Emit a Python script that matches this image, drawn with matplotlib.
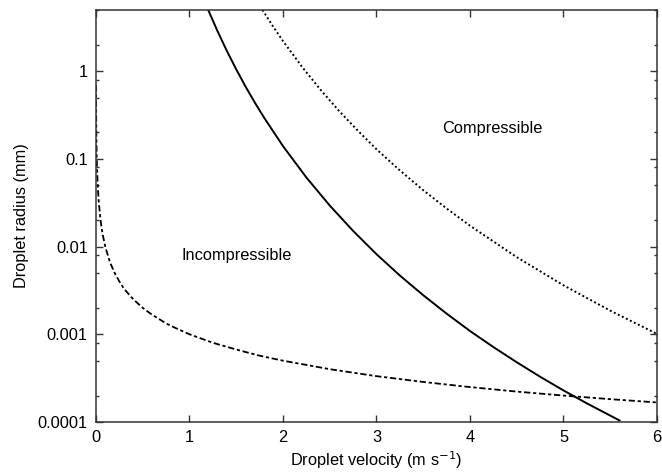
import matplotlib
matplotlib.use("Agg")
import matplotlib.pyplot as plt
from matplotlib.ticker import LogLocator, FixedLocator, NullFormatter

plt.rcParams['font.family'] = ['Liberation Sans', 'DejaVu Sans']

# solid curve
solid_v = [1.20, 1.30, 1.40, 1.50, 1.60, 1.70, 1.80, 2.00, 2.25, 2.50, 2.75, 3.00, 3.25,
           3.50, 3.75, 4.00, 4.25, 4.50, 4.75, 5.00, 5.25, 5.60]
solid_r = [5.0, 2.86, 1.70, 1.05, 0.667, 0.437, 0.293, 0.140, 0.0614, 0.0294, 0.0151, 0.00819,
           0.00468, 0.00279, 0.00172, 0.00109, 7.15e-4, 4.8e-4, 3.28e-4, 2.29e-4, 1.63e-4, 1.04e-4]

# dotted curve
dotted_v = [1.78, 1.90, 2.00, 2.20, 2.40, 2.60, 2.80, 3.00, 3.25, 3.50, 3.75, 4.00,
            4.50, 5.00, 5.50, 6.00]
dotted_r = [5.0, 3.17, 2.21, 1.135, 0.617, 0.352, 0.210, 0.129, 0.0739, 0.0440, 0.0272, 0.0173,
            0.00758, 0.00362, 0.00186, 0.00101]

# dashed curve
dashed_v = [0.0, 0.0005, 0.001, 0.002, 0.004, 0.007, 0.01, 0.015, 0.02, 0.03, 0.05, 0.07, 0.1,
            0.15, 0.2, 0.25, 0.3, 0.4, 0.5, 0.6, 0.75, 0.85, 1.0, 1.25, 1.5, 1.75, 2.0, 2.5,
            3.0, 3.5, 4.0, 4.5, 5.0, 5.5, 6.0]
dashed_r = [0.69, 0.51, 0.41, 0.29, 0.18, 0.118, 0.087, 0.061, 0.047, 0.032, 0.0194, 0.0140, 0.0099,
            0.0066, 0.0050, 0.0040, 0.0033, 0.0025, 0.0020, 0.00167, 0.00133, 0.00118, 0.00100,
            8.0e-4, 6.7e-4, 5.7e-4, 5.0e-4, 4.0e-4, 3.33e-4, 2.86e-4, 2.5e-4, 2.22e-4, 2.0e-4,
            1.82e-4, 1.67e-4]

x_ticks = [0, 1, 2, 3, 4, 5, 6]
y_ticks = [0.0001, 0.001, 0.01, 0.1, 1]
y_tick_labels = ['0.0001', '0.001', '0.01', '0.1', '1']

fig = plt.figure(figsize=(6.62, 4.72), dpi=100)
ax = fig.add_axes([0.145, 0.106, 0.8474, 0.873])

ax.plot(solid_v, solid_r, color='black', lw=1.4, ls='-')
ax.plot(dotted_v, dotted_r, color='black', lw=1.4, ls=(0, (1, 1.3)))
ax.plot(dashed_v, dashed_r, color='black', lw=1.3, ls=(0, (3.5, 1.5, 1.8, 1.5)))

ax.set_yscale('log')
ax.set_xlim(0, 6)
ax.set_ylim(1e-4, 5)

ax.xaxis.set_major_locator(FixedLocator(x_ticks))
ax.set_xticklabels([str(t) for t in x_ticks])
ax.yaxis.set_major_locator(FixedLocator(y_ticks))
ax.set_yticklabels(y_tick_labels)
ax.yaxis.set_minor_locator(LogLocator(base=10, subs=[2, 5, 8]))
ax.yaxis.set_minor_formatter(NullFormatter())

ax.tick_params(which='both', direction='in', top=True, right=True, labelsize=11.8, color='#333333')
ax.tick_params(which='major', length=5, width=1, pad=6)
ax.tick_params(which='minor', length=2.5, width=1)
for s in ax.spines.values():
    s.set_linewidth(1.1)
    s.set_color('#333333')

ax.text(4.24, 0.224, 'Compressible', fontsize=11.8, ha='center', va='center')
ax.text(1.5, 0.008, 'Incompressible', fontsize=11.8, ha='center', va='center')

ax.set_xlabel('Droplet velocity (m s$^{-1}$)', fontsize=11.8, labelpad=3)
ax.set_ylabel('Droplet radius (mm)', fontsize=11.8, labelpad=6)

fig.savefig('out.png', dpi=100)
